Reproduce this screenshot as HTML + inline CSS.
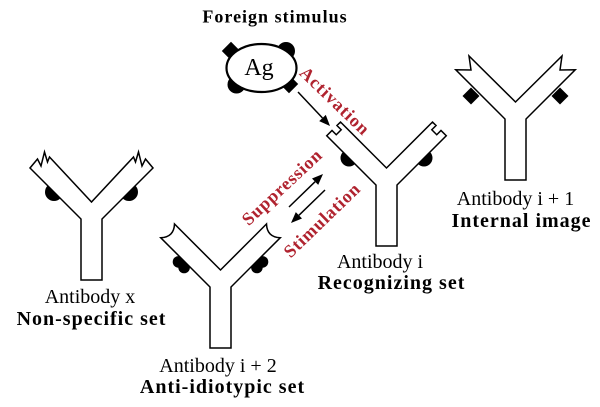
<!DOCTYPE html>
<html>
<head>
<meta charset="utf-8">
<style>
  html, body { margin: 0; padding: 0; background: #ffffff; }
  body { width: 600px; height: 407px; overflow: hidden; }
  svg { display: block; }
  text { font-family: "Liberation Serif", serif; }
</style>
</head>
<body>
<svg width="600" height="407" viewBox="0 0 600 407" xmlns="http://www.w3.org/2000/svg">
  <rect width="600" height="407" fill="#ffffff"/>

  <!-- Foreign stimulus / Ag -->
  <text x="275" y="22.5" font-size="18" font-weight="bold" letter-spacing="1" text-anchor="middle" fill="#000">Foreign stimulus</text>
  <g fill="#000">
    <rect x="224.5" y="44.5" width="13" height="13" transform="rotate(45 231 51)"/>
    <rect x="282.5" y="77.5" width="13" height="13" transform="rotate(45 289 84)"/>
    <circle cx="286" cy="51" r="9"/>
    <circle cx="236.5" cy="84.5" r="9"/>
  </g>
  <ellipse cx="261.5" cy="68" rx="35" ry="24" fill="#fff" stroke="#000" stroke-width="2.2"/>
  <text x="259" y="75" font-size="24" text-anchor="middle" fill="#000">Ag</text>

  <!-- Activation arrow -->
  <line x1="298" y1="92" x2="322.5" y2="118" stroke="#000" stroke-width="1.5"/>
  <polygon points="330,126 319.2,121.1 325.8,114.9" fill="#000"/>

  <!-- Double arrows -->
  <line x1="289" y1="207" x2="315.1" y2="181.7" stroke="#000" stroke-width="1.5"/>
  <polygon points="323,174 318.2,184.9 312,178.5" fill="#000"/>
  <line x1="325" y1="190" x2="298.9" y2="215.3" stroke="#000" stroke-width="1.5"/>
  <polygon points="291,223 302,218.5 295.8,212.1" fill="#000"/>

  <!-- Red labels -->
  <text transform="translate(335,101) rotate(44)" y="6" font-size="18" font-weight="bold" letter-spacing="1" text-anchor="middle" fill="#b0232f">Activation</text>
  <text transform="translate(282,187) rotate(-43)" y="6" font-size="18" font-weight="bold" letter-spacing="0.8" text-anchor="middle" fill="#b0232f">Suppression</text>
  <text transform="translate(322,220) rotate(-44)" y="6" font-size="18" font-weight="bold" letter-spacing="0.8" text-anchor="middle" fill="#b0232f">Stimulation</text>

  <!-- Antibody x (non-specific) -->
  <g transform="translate(91.5,202)">
    <circle cx="-37.5" cy="-10" r="9" fill="#000"/>
    <circle cx="37.5" cy="-10" r="9" fill="#000"/>
    <path d="M -10.5 78 L -10.5 17 L -61.5 -34 L -54 -43 L -50.5 -36 L -47 -50 L -44 -40 L -42 -45 L 0 0 L 42 -45 L 44 -40 L 47 -50 L 50.5 -36 L 54 -43 L 61.5 -34 L 10.5 17 L 10.5 78 Z" fill="#fff" stroke="#000" stroke-width="1.5" stroke-linejoin="miter"/>
  </g>
  <text x="90" y="303" font-size="20" text-anchor="middle" fill="#000">Antibody x</text>
  <text x="91.5" y="325" font-size="20" font-weight="bold" letter-spacing="1" text-anchor="middle" fill="#000">Non-specific set</text>

  <!-- Antibody i + 2 (anti-idiotypic) -->
  <g transform="translate(220.5,270)">
    <g fill="#000">
      <circle cx="-42" cy="-8.1" r="5.8"/>
      <circle cx="-36.4" cy="-2.5" r="5.8"/>
      <circle cx="42" cy="-8.1" r="5.8"/>
      <circle cx="36.4" cy="-2.5" r="5.8"/>
    </g>
    <path d="M -10.5 78 L -10.5 17 L -59.75 -32.25 Q -46.5 -32.8 -46 -46 L 0 0 L 46 -46 Q 46.5 -32.8 59.75 -32.25 L 10.5 17 L 10.5 78 Z" fill="#fff" stroke="#000" stroke-width="1.5"/>
  </g>
  <text x="218" y="372" font-size="20" text-anchor="middle" fill="#000">Antibody i + 2</text>
  <text x="222.5" y="393" font-size="20" font-weight="bold" letter-spacing="1" text-anchor="middle" fill="#000">Anti-idiotypic set</text>

  <!-- Antibody i (recognizing) -->
  <g transform="translate(386.5,168)">
    <circle cx="-37.5" cy="-10" r="8.5" fill="#000"/>
    <circle cx="37.5" cy="-10" r="8.5" fill="#000"/>
    <path d="M -10.5 78 L -10.5 17 L -59.76 -32.24 L -54.49 -37.51 L -50.25 -33.27 L -45.3 -38.22 L -49.54 -42.46 L -46 -46 L 0 0 L 46 -46 L 49.54 -42.46 L 45.3 -38.22 L 50.25 -33.27 L 54.49 -37.51 L 59.76 -32.24 L 10.5 17 L 10.5 78 Z" fill="#fff" stroke="#000" stroke-width="1.5"/>
  </g>
  <text x="380" y="268" font-size="20" text-anchor="middle" fill="#000">Antibody i</text>
  <text x="391.5" y="289" font-size="20" font-weight="bold" letter-spacing="1" text-anchor="middle" fill="#000">Recognizing set</text>

  <!-- Antibody i + 1 (internal image) -->
  <g transform="translate(515.5,102)">
    <rect x="-50.5" y="-12" width="12" height="12" transform="rotate(45 -44.5 -6)" fill="#000"/>
    <rect x="38.5" y="-12" width="12" height="12" transform="rotate(45 44.5 -6)" fill="#000"/>
    <path d="M -10.5 78 L -10.5 17 L -59.75 -32.25 L -44.5 -32 L -46.5 -46 L 0 0 L 46.5 -46 L 44.5 -32 L 59.75 -32.25 L 10.5 17 L 10.5 78 Z" fill="#fff" stroke="#000" stroke-width="1.5"/>
  </g>
  <text x="515.5" y="205" font-size="20" text-anchor="middle" fill="#000">Antibody i + 1</text>
  <text x="521.5" y="227" font-size="20" font-weight="bold" letter-spacing="1" text-anchor="middle" fill="#000">Internal image</text>
</svg>
</body>
</html>
